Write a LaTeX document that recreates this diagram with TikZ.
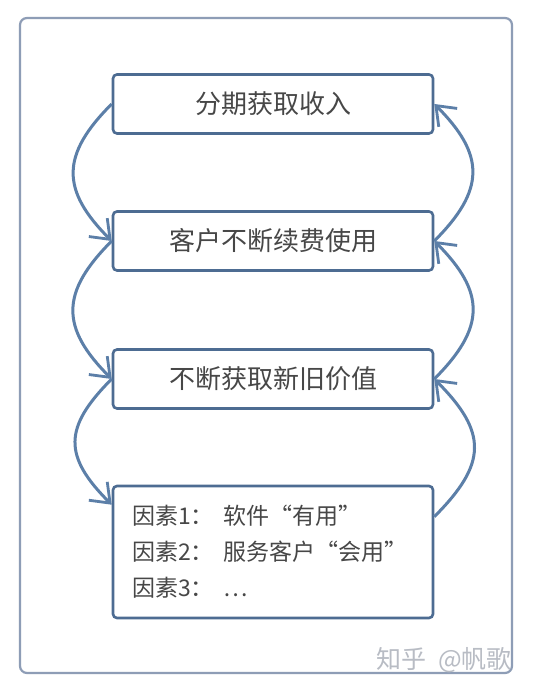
\documentclass[tikz,border=0pt]{standalone}
\usepackage{fontspec}
\newfontfamily\cjk{Noto Sans CJK SC}
\usetikzlibrary{arrows.meta,calc}
\definecolor{boxblue}{HTML}{4D6C92}
\definecolor{arcblue}{HTML}{5C7FA8}
\definecolor{outerc}{HTML}{8E9DB6}
\definecolor{txt}{HTML}{474747}
\definecolor{wm}{HTML}{B8BCC4}
\begin{document}
\begin{tikzpicture}[x=1pt,y=1pt,
  stepbox/.style={draw=boxblue,line width=2.6pt,rounded corners=4pt,fill=white,
    minimum width=320pt,minimum height=59pt,text=txt,font=\cjk\fontsize{26pt}{30pt}\selectfont,inner sep=0pt},
  loop/.style={draw=arcblue,line width=3pt,-{Straight Barb[length=17pt,width=26pt,line width=2.8pt]}}]
\useasboundingbox (0,0) rectangle (536,700);
\fill[white] (0,0) rectangle (536,700);
\draw[outerc,line width=2.2pt,rounded corners=7pt] (20,27) rectangle (512,682);
\node[stepbox] (b1) at (273,596) {分期获取收入};
\node[stepbox] (b2) at (273,459) {客户不断续费使用};
\node[stepbox] (b3) at (273,321) {不断获取新旧价值};
\node[stepbox,minimum height=132pt,text width=282pt,align=left,inner xsep=19pt,
  font=\cjk\fontsize{23pt}{36pt}\selectfont] (b4) at (273,148)
  {因素1：\hspace{10pt}软件“有用”\\因素2：\hspace{10pt}服务客户“会用”\\因素3：\hspace{10pt}…};
\coordinate (l4) at ($(b4.north west)+(0,-20)$);
\coordinate (r4) at ($(b4.north east)+(0,-32)$);
\draw[loop] (b1.west) to[out=225,in=135,looseness=1.35] (b2.west);
\draw[loop] (b2.west) to[out=225,in=135,looseness=1.35] (b3.west);
\draw[loop] (b3.west) to[out=225,in=135,looseness=1.4] (l4);
\draw[loop] (b2.east) to[out=45,in=-45,looseness=1.35] (b1.east);
\draw[loop] (b3.east) to[out=45,in=-45,looseness=1.35] (b2.east);
\draw[loop] (r4) to[out=45,in=-45,looseness=1.4] (b3.east);
\node[text=wm,font=\cjk\fontsize{25pt}{28pt}\selectfont,anchor=east,inner sep=0pt] (wmk) at (512,40) {知乎\hspace{6pt} @帆歌};
\end{tikzpicture}
\end{document}
